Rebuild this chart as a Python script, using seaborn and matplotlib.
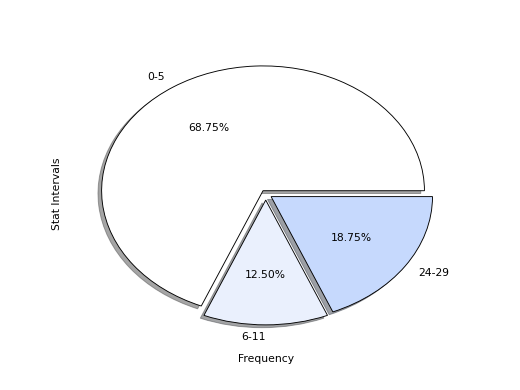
import matplotlib
matplotlib.use("Agg")
import matplotlib.pyplot as plt
import seaborn as sns

labels = ["0-5", "6-11", "24-29"]
values = [11, 2, 3]
colors = ["#ffffff", "#eaf0fd", "#c6d9fd"]
explode = [0.03, 0.05, 0.04]

sns.set_style("white", {"text.color": "black", "axes.labelcolor": "black"})
plt.rcParams['font.family'] = ['DejaVu Sans']

fig = plt.figure(figsize=(6.4, 4.8), dpi=81.25)
ax = fig.add_axes([0.123, 0.103, 0.776, 0.8])
wedges, texts, autotexts = ax.pie(
    values, labels=labels, colors=colors, explode=explode,
    autopct="%1.2f%%", shadow=True, startangle=0,
    wedgeprops=dict(edgecolor="black", linewidth=0.8),
    textprops=dict(fontsize=9.5, color="black"))
# bottom label sits right-aligned at the wedge midpoint
texts[1].set_horizontalalignment("right")
ax.set_aspect("auto")
ax.set_xlim(-1.25, 1.25)
ax.set_ylim(-1.25, 1.25)
ax.set_xlabel("Frequency", fontsize=9.5, color="black")
ax.set_ylabel("Stat Intervals", fontsize=9.5, color="black", labelpad=1.5)
fig.savefig("out.png", dpi=81.25)
